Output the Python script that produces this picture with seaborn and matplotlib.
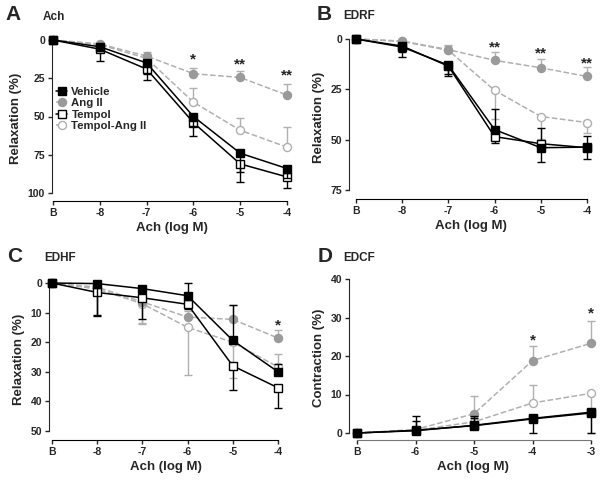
import matplotlib
matplotlib.use('Agg')
import matplotlib.pyplot as plt
import numpy as np
import seaborn as sns

sns.set_style("ticks")
plt.rcParams['font.family'] = ['Liberation Sans', 'DejaVu Sans']
plt.rcParams['font.weight'] = 'bold'

W, H = 601, 483

# ---- data ----
ticks_abc = ['B', '-8', '-7', '-6', '-5', '-4']
ticks_d = ['B', '-6', '-5', '-4', '-3']

# panel A  Ach
a_veh = [0, 4.4, 15, 50, 74, 84]
a_veh_err = [0, 3, 7, 6, 12, 6]
a_tem = [0, 6, 19, 54, 81, 89.5]
a_tem_err = [0, 8, 7, 9, 12, 7]
a_ang = [0, 2.6, 10.5, 22, 24.5, 36]
a_ang_err = [0, 0, -2.5, -4, -4, -7]
a_tang = [0, 3, 12, 40.6, 59, 70]
a_tang_err = [0, 0, -2, -9, -8, -13]

# panel B  EDRF
b_veh = [0, 4, 13, 45, 54, 53.7]
b_veh_err = [0, 5, 5.6, -10, 7, 6]
b_tem = [0, 3.5, 13.5, 48.5, 52, 54]
b_tem_err = [0, 3, 4, 3, -8, -6]
b_ang = [0, 1, 5.3, 10.6, 14.3, 18.6]
b_ang_err = [0, 0, -2.5, -4, -4.5, -4.5]
b_tang = [0, 1.2, 5.6, 25.5, 38.5, 41.5]
b_tang_err = [0, 0, -2, 14, 11, 5]

# panel C  EDHF
c_veh = [0, 0.2, 1.9, 4.3, 19.4, 30]
c_veh_err = [0, 10.5, -1, -4.3, -12, -2.5]
c_tem = [0, 3.2, 5, 7.2, 28, 35.4]
c_tem_err = [0, 8, 7, 1.5, 8.3, 6.8]
c_ang = [0, 1.4, 6.4, 11.5, 12.3, 18.6]
c_ang_err = [0, 0, 7, -2, -5, -2.6]
c_tang = [0, 2, 7, 15, 20, 28.4]
c_tang_err = [0, 0, 7, 16, 12, -4.5]

# panel D  EDCF
d_veh = [0, 0.7, 1.9, 3.65, 5.2]
d_veh_err = [0, 3.6, 2.5, -3.65, -5.2]
d_tem = [0, 0.6, 2.0, 3.8, 5.4]
d_tem_err = [0, 2.5, 2, 0, 0]
d_ang = [0, 0.9, 5, 18.8, 23.3]
d_ang_err = [0, 0, 4.6, 3.7, 5.7]
d_tang = [0, 0.7, 2.9, 7.8, 10.3]
d_tang_err = [0, 0, 0, 4.6, -10.3]

GRAY = '#9a9a9a'
LGRAY = '#b0b0b0'

fig = plt.figure(figsize=(W / 100, H / 100), dpi=100)


def make_ax(L, T, R, B, xfirst, xlast, n, y0pix, y0val, y1pix, y1val):
    ax = fig.add_axes([L / W, 1 - B / H, (R - L) / W, (B - T) / H])
    ppx = (xlast - xfirst) / (n - 1)
    ax.set_xlim((L - xfirst) / ppx, (R - xfirst) / ppx)
    ppy = (y1pix - y0pix) / (y1val - y0val)
    ax.set_ylim(y0val + (B - y0pix) / ppy, y0val + (T - y0pix) / ppy)
    return ax


def series(ax, vals, err, color, marker, mfc, mec, ls, label, z):
    x = np.arange(len(vals))
    sns.lineplot(x=x, y=vals, ax=ax, color=color, marker=marker, markersize=5.8,
                 markerfacecolor=mfc, markeredgecolor=mec, markeredgewidth=1,
                 linestyle=ls, linewidth=1.1, label=label, zorder=z, clip_on=False)
    err = np.array(err, dtype=float)
    m = err != 0
    lo = np.where(err < 0, -err, 0)[m]
    hi = np.where(err > 0, err, 0)[m]
    ecol = 'black' if color == 'black' else LGRAY
    ax.errorbar(x[m], np.array(vals)[m], yerr=[lo, hi], fmt='none', ecolor=ecol,
                elinewidth=1, capsize=3, capthick=1, zorder=z - 1, clip_on=False)


def draw(ax, veh, veh_e, tem, tem_e, ang, ang_e, tang, tang_e, labels, ybounds, yticks, ylabel, spine_col='black'):
    series(ax, tang, tang_e, LGRAY, 'o', 'white', LGRAY, '--', 'Tempol-Ang II', 3)
    series(ax, ang, ang_e, LGRAY, 'o', GRAY, GRAY, '--', 'Ang II', 4)
    series(ax, tem, tem_e, 'black', 's', 'white', 'black', '-', 'Tempol', 5)
    series(ax, veh, veh_e, 'black', 's', 'black', 'black', '-', 'Vehicle', 6)
    ax.get_legend().remove()
    sns.despine(ax=ax)
    ax.spines['left'].set_bounds(*ybounds)
    ax.spines['bottom'].set_bounds(0, len(labels) - 1)
    ax.spines['bottom'].set_color(spine_col)
    ax.set_xticks(range(len(labels)))
    ax.set_xticklabels(labels)
    ax.set_yticks(yticks)
    ax.tick_params(labelsize=7.5, length=3, width=1, pad=2)
    for t in ax.get_xticklabels() + ax.get_yticklabels():
        t.set_fontweight('bold')
    ax.set_xlabel('Ach (log M)', fontsize=9.5, fontweight='bold', labelpad=3)
    ax.set_ylabel(ylabel, fontsize=9.5, fontweight='bold', labelpad=4)


def stars(ax, pts):
    for x, y, s in pts:
        ax.text(x, y, s, ha='center', va='center', fontsize=11, fontweight='bold', clip_on=False)


axA = make_ax(52, 36, 292, 201, 53, 287, 6, 40, 0, 193, 100)
draw(axA, a_veh, a_veh_err, a_tem, a_tem_err, a_ang, a_ang_err, a_tang, a_tang_err,
     ticks_abc, (0, 100), [0, 25, 50, 75, 100], 'Relaxation (%)')
stars(axA, [(3, 13, '*'), (4, 16, '**'), (5, 23, '**')])

axB = make_ax(349, 36, 592, 199, 356, 587, 6, 39, 0, 190, 75)
draw(axB, b_veh, b_veh_err, b_tem, b_tem_err, b_ang, b_ang_err, b_tang, b_tang_err,
     ticks_abc, (0, 75), [0, 25, 50, 75], 'Relaxation (%)')
stars(axB, [(3, 4, '**'), (4, 7, '**'), (5, 12, '**')])

axC = make_ax(49, 279, 283, 440, 52, 278, 6, 283, 0, 431, 50)
draw(axC, c_veh, c_veh_err, c_tem, c_tem_err, c_ang, c_ang_err, c_tang, c_tang_err,
     ticks_abc, (0, 50), [0, 10, 20, 30, 40, 50], 'Relaxation (%)')
stars(axC, [(5, 14.5, '*')])

axD = make_ax(349, 275, 596, 440, 357, 591, 5, 433, 0, 279, 40)
draw(axD, d_veh, d_veh_err, d_tem, d_tem_err, d_ang, d_ang_err, d_tang, d_tang_err,
     ticks_d, (0, 40), [0, 10, 20, 30, 40], 'Contraction (%)', spine_col='#777777')
stars(axD, [(3, 24, '*'), (4, 31, '*')])

# legend in panel A
h, l = axA.get_legend_handles_labels()
order = ['Vehicle', 'Ang II', 'Tempol', 'Tempol-Ang II']
hd = dict(zip(l, h))
axA.legend([hd[k] for k in order], order, loc='upper left',
           bbox_to_anchor=(56 / W, 1 - 87 / H), bbox_transform=fig.transFigure,
           frameon=False, prop={'weight': 'bold', 'size': 8.2}, handlelength=1.0,
           handletextpad=0.35, labelspacing=0.12, borderpad=0, borderaxespad=0)

# panel letters and titles
for x, y, letter, tx, title in [(5, 15, 'A', 43, 'Ach'), (317, 14, 'B', 343, 'EDRF'),
                                 (7, 256, 'C', 44, 'EDHF'), (318, 256, 'D', 343, 'EDCF')]:
    fig.text(x / W, 1 - y / H, letter, fontsize=15, fontweight='bold', va='center', ha='left')
    fig.text(tx / W, 1 - (y + 2) / H, title, fontsize=8.5, fontweight='bold', va='center', ha='left')

fig.savefig('out.png', dpi=100)
